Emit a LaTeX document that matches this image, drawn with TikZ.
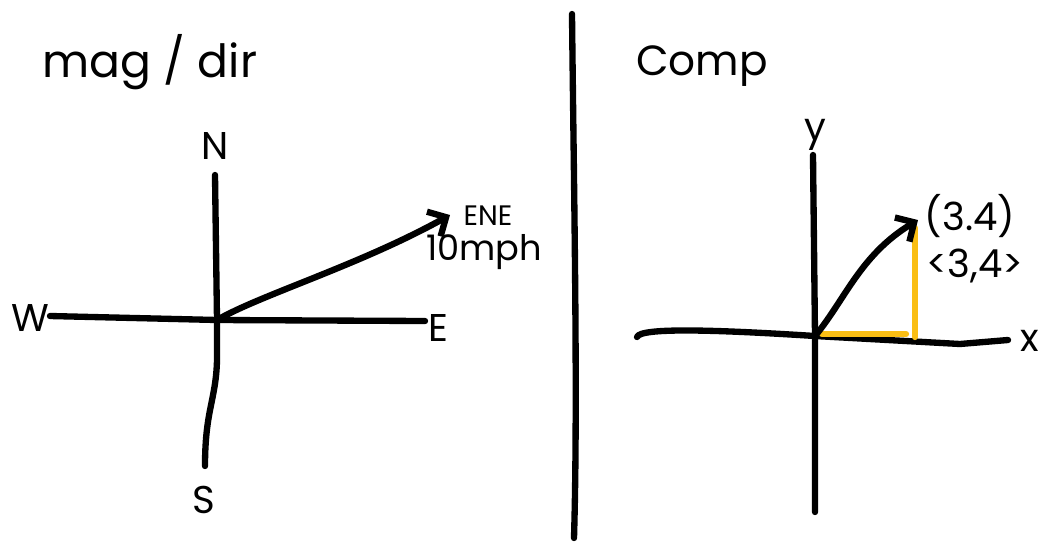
\documentclass[tikz,border=0pt]{standalone}
\usepackage{fontspec}
\setmainfont{Poppins}
\usetikzlibrary{arrows.meta}
\definecolor{penblack}{RGB}{0,0,0}
\definecolor{penyellow}{RGB}{250,190,20}

\begin{document}
\begin{tikzpicture}[x=0.01cm, y=-0.01cm,
    pen/.style={draw=penblack, line width=1.8pt, line cap=round, line join=round},
    hl/.style={draw=penyellow, line width=1.8pt, line cap=round},
    arrow/.style={pen, -{Straight Barb[length=4pt,width=8pt]}},
    label/.style={font=\fontsize{11}{13}\selectfont, text=penblack, inner sep=1pt},
    title/.style={font=\fontsize{13}{15}\selectfont, text=penblack, inner sep=1pt}
]
\useasboundingbox (0,0) rectangle (1039,542);
% left panel: magnitude / direction
\node[title] (magdir) at (150,62) {mag / dir};
\node[label] (N) at (215,146) {N};
\node[label] (W) at (30,318) {W};
\node[label] (E) at (438,328) {E};
\node[label] (S) at (204,500) {S};
\coordinate (O1) at (217,320);
\coordinate (Ntop) at (215,175);
\coordinate (Sbot) at (205,466);
\coordinate (Wend) at (50,316);
\coordinate (Eend) at (425,321);
\coordinate (Vtip) at (450,215);
\draw[pen] (Ntop) -- (O1) -- (217,360) .. controls (216,400) and (205,410) .. (Sbot);
\draw[pen] (Wend) -- (O1) -- (Eend);
\draw[arrow] (O1) .. controls (260,295) and (360,265) .. (Vtip);
\node[label, font=\fontsize{8}{10}\selectfont] (ene) at (488,216) {ENE};
\node[label, font=\fontsize{10}{12}\selectfont] (speed) at (484,252) {10mph};
% divider
\coordinate (divtop) at (572,14);
\coordinate (divbot) at (574,538);
\draw[pen] (divtop) .. controls (574,200) and (578,400) .. (divbot);
% right panel: components
\node[title, font=\fontsize{12}{14}\selectfont] (comp) at (702,66) {Comp};
\node[label] (ylab) at (815,135) {y};
\node[label] (xlab) at (1030,341) {x};
\coordinate (O2) at (815,336);
\coordinate (Ytop) at (813,155);
\coordinate (Ybot) at (815,512);
\coordinate (Xleft) at (637,337);
\coordinate (Xright) at (1008,340);
\coordinate (Ptip) at (918,220);
\coordinate (Pfoot) at (915,337);
\draw[pen] (Ytop) -- (O2) -- (Ybot);
\draw[pen] (Xleft) .. controls (640,327) and (720,330) .. (O2) -- (960,344) -- (Xright);
\draw[hl] (822,334) -- (906,334);
\draw[hl] (915,228) -- (Pfoot);
\draw[arrow] (O2) .. controls (845,300) and (860,255) .. (Ptip);
\node[label] (point) at (970,216) {(3.4)};
\node[label] (vec) at (975,266) {<3,4>};
\end{tikzpicture}
\end{document}
